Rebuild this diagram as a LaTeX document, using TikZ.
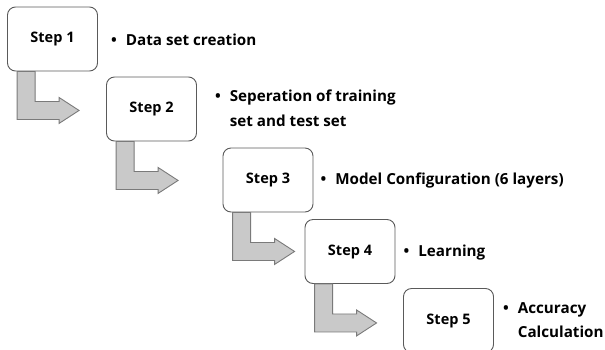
\documentclass[tikz,border=0pt]{standalone}
\usepackage{fontspec}
\setmainfont{Open Sans}
\usetikzlibrary{positioning,calc}

\definecolor{boxline}{HTML}{5A5A5A}
\definecolor{arrowfill}{HTML}{C9C9C9}
\definecolor{arrowline}{HTML}{7A7A7A}

\tikzset{
  stepbox/.style={rectangle, rounded corners=8pt, draw=boxline, line width=0.9pt, fill=white,
    minimum width=90pt, minimum height=64pt, font=\fontsize{14.5}{17}\selectfont\bfseries},
  steplabel/.style={anchor=west, inner sep=0pt, font=\fontsize{15.2}{24.5}\selectfont\bfseries},
  arrowshape/.style={fill=arrowfill, draw=arrowline, line width=0.9pt, line join=miter}
}

% bent block arrow below a step box
\newcommand{\bendarrow}[1]{%
  \draw[arrowshape] ($(#1.south west)+(10,0)$) -- ++(0,48) -- ++(42,0) -- ++(0,4)
    -- ++(20,-13) -- ++(-20,-13) -- ++(0,4) -- ++(-24,0) -- ++(0,-30) -- cycle;}

\begin{document}
\begin{tikzpicture}[x=1pt, y=-1pt]
  \useasboundingbox (0,0) rectangle (605,349);

  \node[stepbox] (s1) at (52.5,39) {Step 1};
  \node[stepbox] (s2) at (151.5,109) {Step 2};
  \node[stepbox] (s3) at (268,180) {Step 3};
  \node[stepbox] (s4) at (350,251.5) {Step 4};
  \node[stepbox] (s5) at (448.5,320.5) {Step 5};

  \bendarrow{s1}
  \bendarrow{s2}
  \bendarrow{s3}
  \bendarrow{s4}

  \node[steplabel, right=13pt of s1, yshift=-2pt] (l1)
    {\begin{tabular}{@{}l@{\hspace{9pt}}l@{}}\textbullet & Data set creation\end{tabular}};
  \node[steplabel, right=18pt of s2] (l2)
    {\begin{tabular}{@{}l@{\hspace{9pt}}l@{}}\textbullet & Seperation of training\\ & set and test set\end{tabular}};
  \node[steplabel, right=7pt of s3] (l3)
    {\begin{tabular}{@{}l@{\hspace{9pt}}l@{}}\textbullet & Model Configuration (6 layers)\end{tabular}};
  \node[steplabel, right=8pt of s4] (l4)
    {\begin{tabular}{@{}l@{\hspace{9pt}}l@{}}\textbullet & Learning\end{tabular}};
  \node[steplabel, right=9pt of s5] (l5)
    {\begin{tabular}{@{}l@{\hspace{9pt}}l@{}}\textbullet & Accuracy\\ & Calculation\end{tabular}};
\end{tikzpicture}
\end{document}
